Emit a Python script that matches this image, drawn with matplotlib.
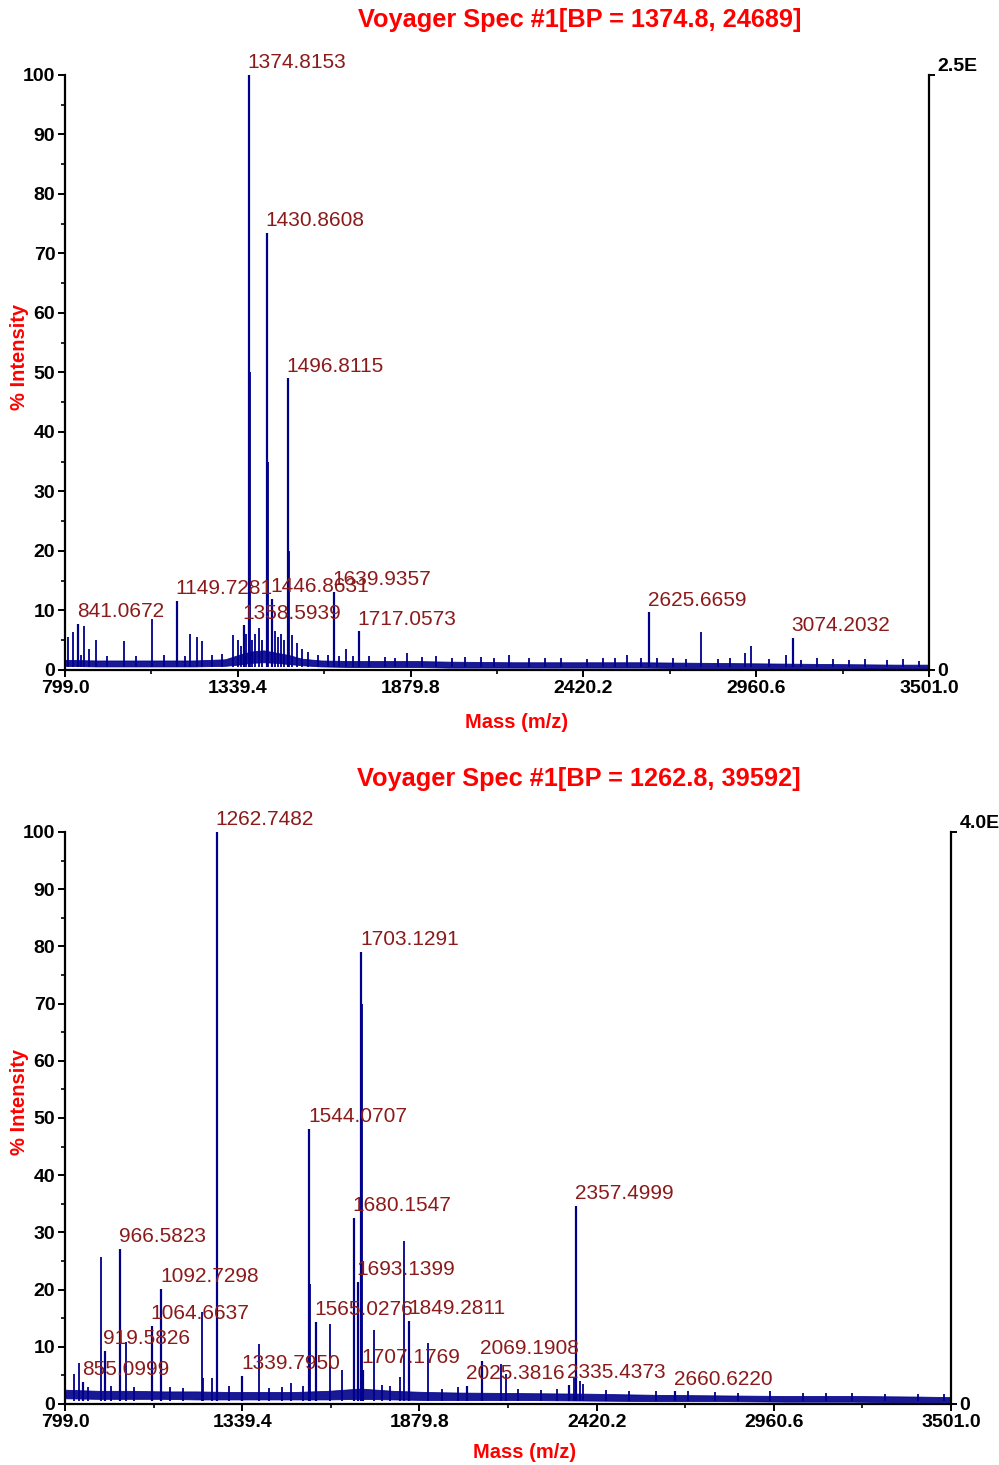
import numpy as np
import matplotlib
matplotlib.use("Agg")
import matplotlib.pyplot as plt
from matplotlib.ticker import MultipleLocator

plt.rcParams['font.family'] = ['Liberation Sans', 'DejaVu Sans']

# ---- spectrum 1 ----
title1 = "Voyager Spec #1[BP = 1374.8, 24689]"
right1 = "2.5E"

top_base_mass = [799, 900, 1000, 1100, 1200, 1300, 1340, 1380, 1420, 1460, 1500, 1540,
                 1600, 1700, 1800, 1900, 2000, 2200, 2400, 2600, 2800, 3000, 3200, 3400, 3501]
top_base_low = [0.7, 0.6, 0.6, 0.6, 0.6, 0.7, 0.9, 1.2, 1.3, 1.2, 1.0, 0.8,
                0.6, 0.5, 0.5, 0.5, 0.4, 0.4, 0.4, 0.4, 0.3, 0.3, 0.3, 0.2, 0.2]
top_base_high = [1.7, 1.6, 1.6, 1.6, 1.6, 1.8, 2.5, 3.1, 3.3, 2.9, 2.5, 1.9,
                 1.6, 1.5, 1.5, 1.5, 1.4, 1.3, 1.3, 1.3, 1.2, 1.1, 1.0, 0.9, 0.9]

top_peak_mass = [807, 823, 858, 875, 897, 983.5, 1070, 1189, 1212, 1226, 1325,
                 1340, 1350, 1365, 1375.82, 1376.82, 1385, 1394, 1405, 1415,
                 1431.86, 1432.86, 1455, 1465, 1475, 1485, 1497.81, 1498.81,
                 1510, 1523, 1540, 1560, 1620, 1677, 1750, 1800, 1867, 1960, 2050,
                 2187, 2300, 2480, 2555, 2700, 2786.7, 2925.5, 2944, 3055, 3150, 3300, 3420,
                 850, 930, 1020, 1110, 1175, 1260, 1290, 1590, 1655, 1700, 1830, 1915,
                 2010, 2100, 2140, 2250, 2350, 2430, 2520, 2600, 2650, 2740, 2840,
                 2880, 3000, 3100, 3200, 3250, 3370, 3470]
top_peak_int = [5.5, 6.4, 7.4, 3.5, 5.0, 4.8, 8.6, 6.1, 5.5, 4.9, 5.9,
                5.0, 4.0, 6.0, 76.0, 50.0, 5.0, 6.0, 7.0, 5.0,
                62.0, 35.0, 6.5, 5.5, 6.0, 5.0, 37.0, 20.0,
                5.9, 4.5, 3.5, 3.0, 2.6, 3.5, 2.3, 2.2, 2.8, 2.3, 2.2,
                2.5, 2.0, 2.1, 2.6, 2.0, 6.4, 2.8, 4.0, 2.5, 2.0, 1.9, 1.8,
                2.6, 2.4, 2.3, 2.5, 2.4, 2.6, 2.7, 2.6, 2.4, 2.3, 2.1, 2.2,
                2.0, 2.2, 2.0, 2.1, 2.0, 1.9, 2.0, 2.1, 2.0, 1.8, 1.9,
                2.0, 1.8, 1.7, 1.8, 1.7, 1.6, 1.5]

top_labels = ["1374.8153", "1430.8608", "1496.8115", "1149.7281", "1446.8631",
              "1639.9357", "1358.5939", "1717.0573", "841.0672", "2625.6659", "3074.2032"]
top_label_int = [100, 73.5, 49.0, 11.6, 11.9, 13.1, 7.5, 6.5, 7.7, 9.7, 5.4]

# ---- spectrum 2 ----
title2 = "Voyager Spec #1[BP = 1262.8, 39592]"
right2 = "4.0E"

bot_base_mass = [799, 900, 1000, 1100, 1200, 1300, 1400, 1500, 1600, 1700, 1800, 1900,
                 2000, 2200, 2400, 2600, 2800, 3000, 3200, 3400, 3501]
bot_base_low = [1.0, 0.9, 0.9, 0.9, 0.8, 0.8, 0.8, 0.8, 0.8, 0.9, 0.8, 0.7,
                0.7, 0.7, 0.6, 0.5, 0.5, 0.4, 0.4, 0.3, 0.3]
bot_base_high = [2.5, 2.3, 2.3, 2.2, 2.2, 2.1, 2.1, 2.1, 2.3, 2.7, 2.3, 2.1,
                 2.0, 1.9, 1.8, 1.6, 1.5, 1.4, 1.4, 1.3, 1.2]

bot_peak_mass = [826, 842.7, 908.8, 967.6, 985, 1216, 1221, 1246, 1263.75, 1389.6,
                 1487, 1526, 1545.07, 1607, 1642.8, 1681.15, 1704.13, 1741.4, 1767,
                 1819.6, 1834, 1907, 1997.6, 2128, 2144, 2350, 2358.5, 2370, 2380,
                 870, 940, 1010, 1120, 1160, 1300, 1420, 1460, 1790, 1950,
                 2180, 2250, 2300, 2450, 2520, 2600, 2700, 2780, 2850, 2950,
                 3050, 3120, 3200, 3300, 3400, 3480]
bot_peak_int = [5.2, 7.1, 25.7, 15.4, 10.8, 16.0, 4.5, 4.5, 76.0, 10.5,
                3.7, 3.1, 21.0, 14.0, 5.9, 30.0, 70.0, 13.0, 3.3,
                4.8, 28.5, 10.6, 3.0, 7.0, 5.2, 4.5, 30.4, 4.0, 3.5,
                3.0, 3.1, 2.9, 3.0, 2.8, 3.2, 2.8, 3.0, 3.1, 2.7,
                2.6, 2.5, 2.6, 2.4, 2.3, 2.2, 2.3, 2.1, 2.0, 2.2,
                2.0, 1.9, 2.0, 1.8, 1.8, 1.7]

bot_labels = ["1262.7482", "1703.1291", "1544.0707", "2357.4999", "1680.1547",
              "966.5823", "1092.7298", "1064.6637", "919.5826", "855.0999",
              "1339.7950", "1565.0276", "1849.2811", "1693.1399", "1707.1769",
              "2069.1908", "2025.3816", "2335.4373", "2660.6220"]
bot_label_int = [100, 79.0, 48.1, 34.6, 32.5, 27.1, 20.1, 13.7, 9.3, 3.9,
                 4.9, 14.4, 14.5, 21.3, 6.0, 7.6, 3.2, 3.4, 2.2]

x_ticks = [799.0, 1339.4, 1879.8, 2420.2, 2960.6, 3501.0]
x_minor = [1069.2, 1609.6, 2150.0, 2690.4, 3230.8]

LINE = '#00008B'
LABEL = '#8B1A1A'
RED = '#FF0000'


def draw_panel(ax, base_m, base_lo, base_hi, pk_m, pk_i, labels, lab_i, right_txt):
    lab_m = [float(s) for s in labels]
    ax.fill_between(base_m, base_lo, base_hi, color=LINE, lw=0.6, alpha=0.9)
    ax.vlines(pk_m, 0.5, pk_i, color=LINE, lw=1.3)
    ax.vlines(lab_m, 0.5, lab_i, color=LINE, lw=1.6)
    for s, m, h in zip(labels, lab_m, lab_i):
        ax.annotate(s, (m, h), xytext=(-1, 2), textcoords='offset points',
                    ha='left', va='bottom', color=LABEL, fontsize=15)

    ax.set_xlim(799, 3501)
    ax.set_ylim(0, 100)
    ax.spines['top'].set_visible(False)
    ax.spines['right'].set_visible(False)
    for sp in ('left', 'bottom'):
        ax.spines[sp].set_linewidth(1.6)

    ax.set_xticks(x_ticks)
    ax.set_xticklabels([f"{v:.1f}" for v in x_ticks], fontweight='bold', fontsize=14)
    ax.set_xticks(x_minor, minor=True)
    ax.set_yticks(range(0, 101, 10))
    ax.set_yticklabels([str(v) for v in range(0, 101, 10)], fontweight='bold', fontsize=14)
    ax.yaxis.set_minor_locator(MultipleLocator(5))
    ax.tick_params(axis='both', which='major', direction='out', length=5, width=1.4, pad=2)
    ax.tick_params(axis='both', which='minor', direction='out', length=3, width=1.2)

    axr = ax.twinx()
    axr.set_ylim(0, 100)
    for sp in ('top', 'left', 'bottom'):
        axr.spines[sp].set_visible(False)
    axr.spines['right'].set_linewidth(1.6)
    axr.set_yticks([0, 100])
    tl = axr.set_yticklabels(['0', right_txt], fontweight='bold', fontsize=14)
    tl[1].set_va('bottom')
    axr.tick_params(axis='y', direction='out', length=4, width=1.4, pad=2)


fig = plt.figure(figsize=(9.99, 14.65), dpi=100)
ax1 = fig.add_axes([65 / 999, 1 - 670 / 1465, 864 / 999, 595 / 1465])
ax2 = fig.add_axes([65 / 999, 1 - 1404 / 1465, 886 / 999, 572 / 1465])

draw_panel(ax1, top_base_mass, top_base_low, top_base_high, top_peak_mass, top_peak_int,
           top_labels, top_label_int, right1)
draw_panel(ax2, bot_base_mass, bot_base_low, bot_base_high, bot_peak_mass, bot_peak_int,
           bot_labels, bot_label_int, right2)

fig.text(580 / 999, 1 - 20 / 1465, title1, color=RED, fontsize=18.3, fontweight='bold',
         ha='center', va='center')
fig.text(579 / 999, 1 - 779 / 1465, title2, color=RED, fontsize=18.3, fontweight='bold',
         ha='center', va='center')
fig.text(517 / 999, 1 - 722 / 1465, "Mass (m/z)", color=RED, fontsize=14.5,
         fontweight='bold', ha='center', va='center')
fig.text(525 / 999, 1 - 1453 / 1465, "Mass (m/z)", color=RED, fontsize=14.5,
         fontweight='bold', ha='center', va='center')
fig.text(20 / 999, 1 - 357 / 1465, "% Intensity", color=RED, fontsize=14.5,
         fontweight='bold', ha='center', va='center', rotation=90)
fig.text(20 / 999, 1 - 1102 / 1465, "% Intensity", color=RED, fontsize=14.5,
         fontweight='bold', ha='center', va='center', rotation=90)

fig.savefig("out.png", dpi=100)
